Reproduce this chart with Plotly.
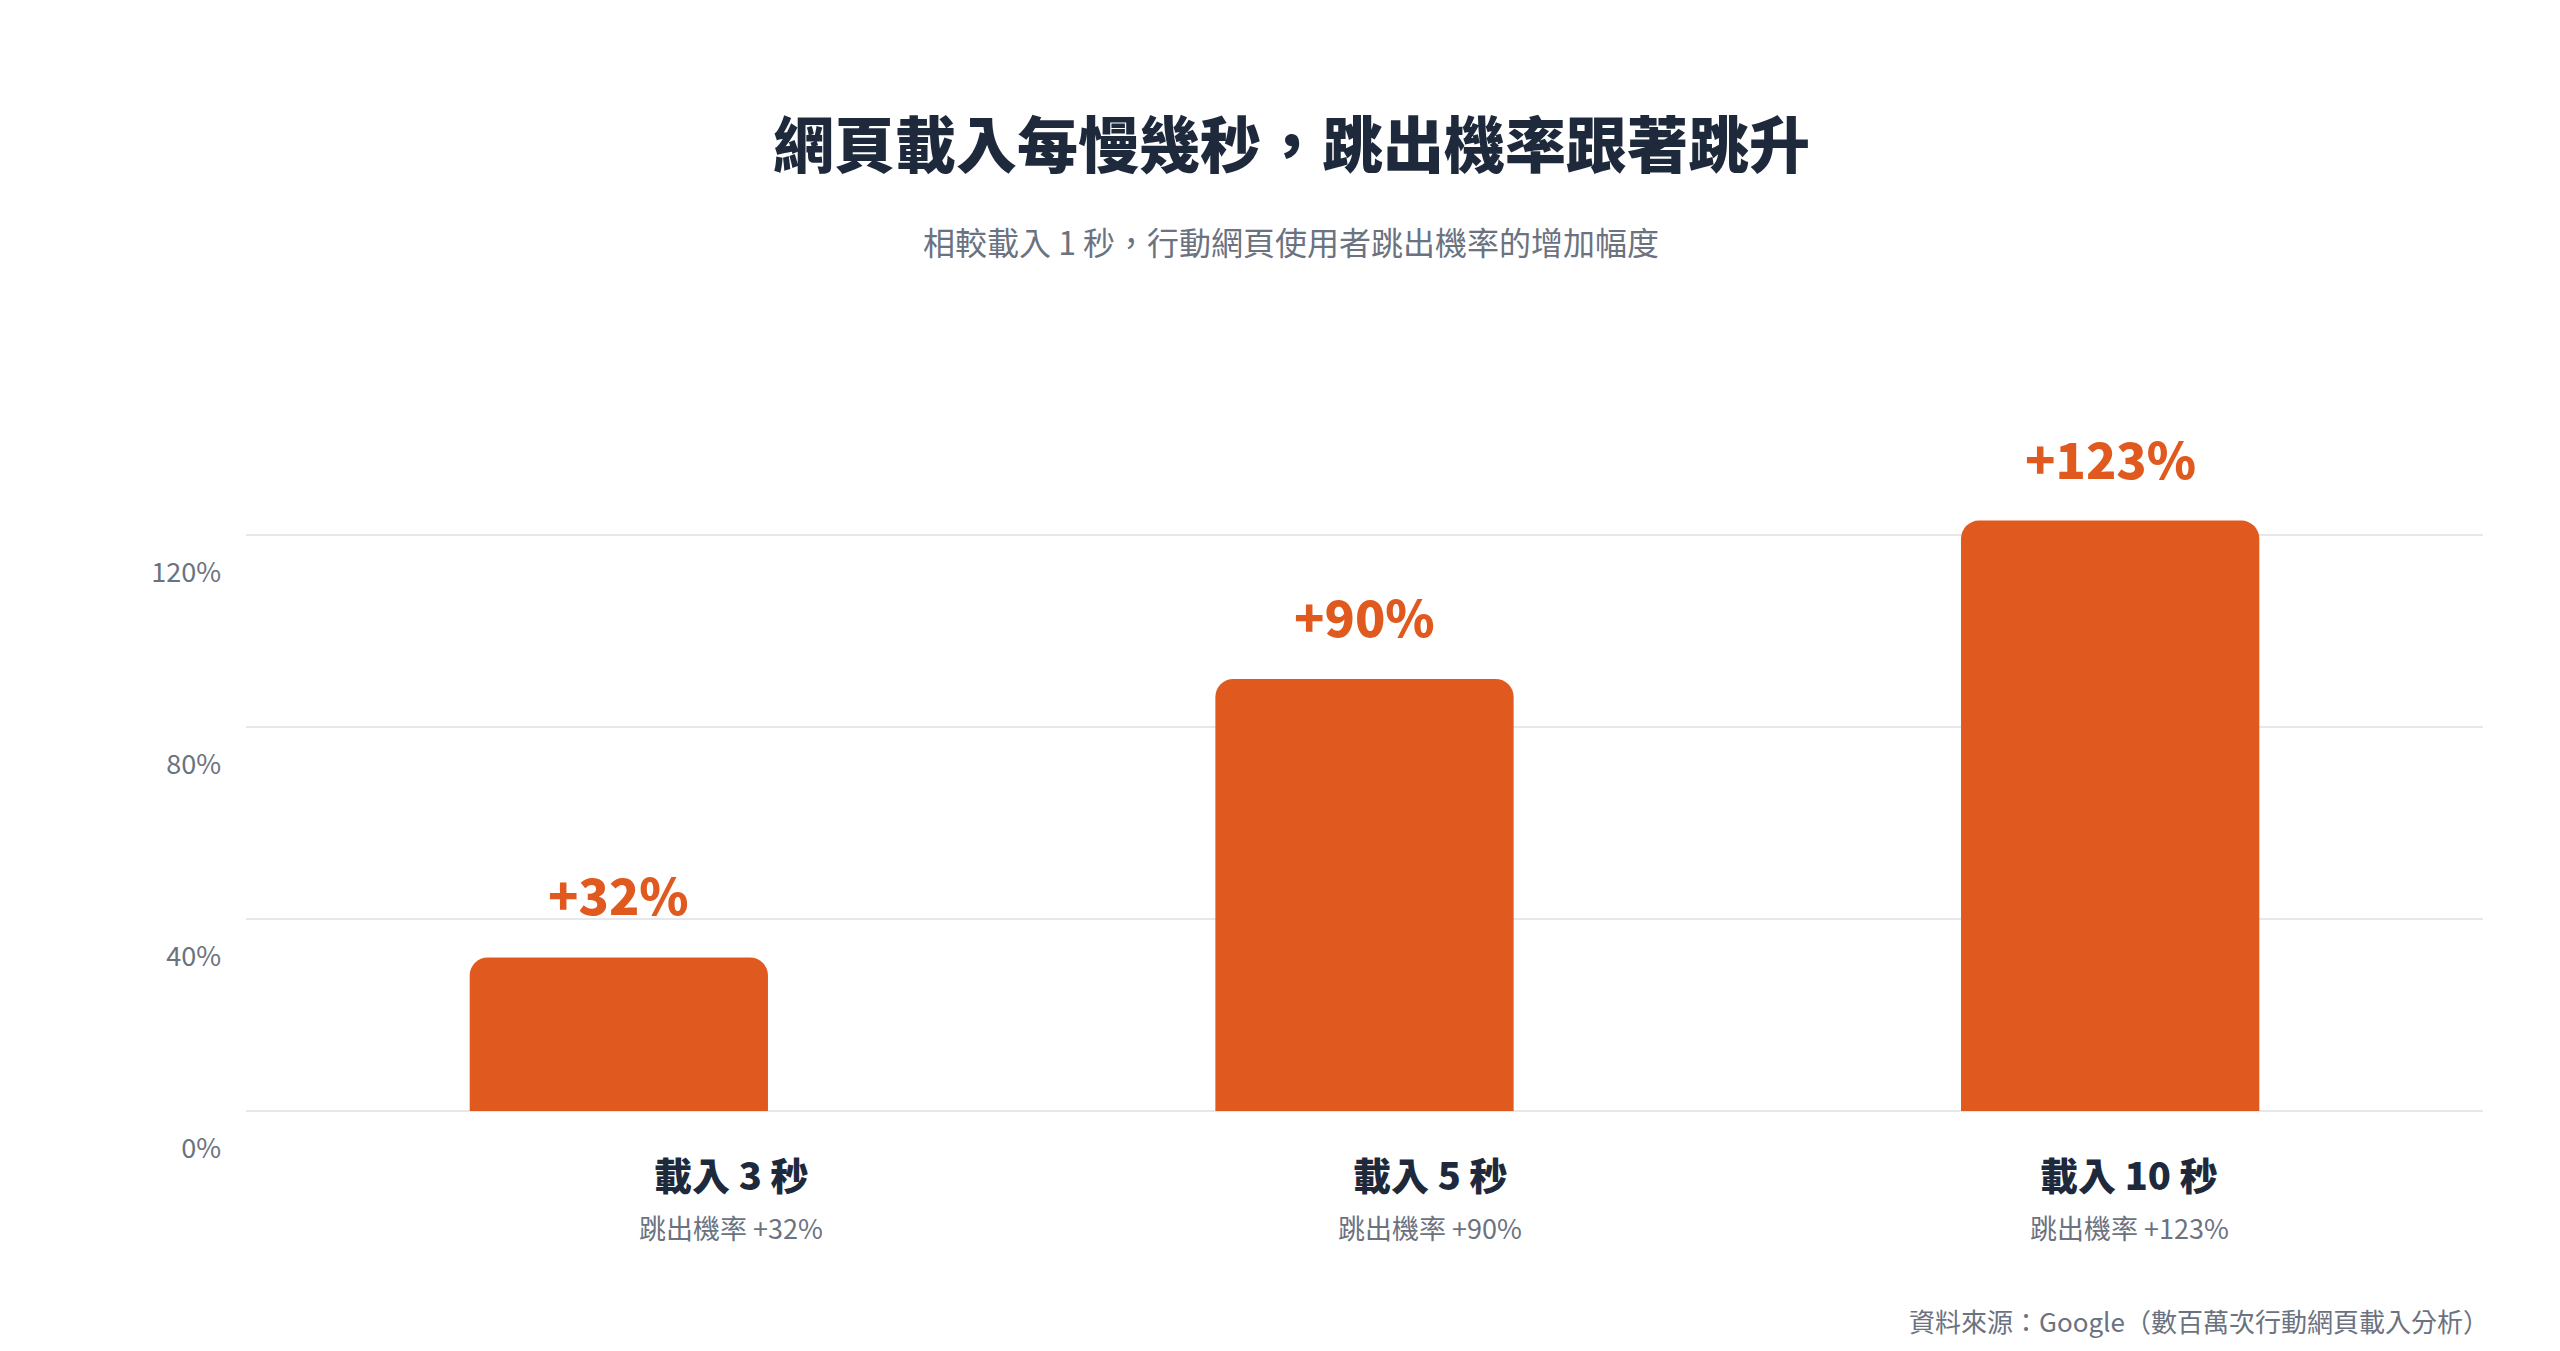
import plotly.graph_objects as go

categories = ["載入 3 秒", "載入 5 秒", "載入 10 秒"]
values = [32, 90, 123]
value_labels = ["+32%", "+90%", "+123%"]
sub_labels = ["跳出機率 +32%", "跳出機率 +90%", "跳出機率 +123%"]
y_tickvals = [0, 40, 80, 120]
y_ticktext = ["0%", "40%", "80%", "120%"]

title_text = "網頁載入每慢幾秒，跳出機率跟著跳升"
subtitle_text = "相較載入 1 秒，行動網頁使用者跳出機率的增加幅度"
source_text = "資料來源：Google（數百萬次行動網頁載入分析）"

W, H = 2560, 1351
L, R, T, B = 238, 85, 431, 248
PW, PH = W - L - R, H - T - B

def px_x(px):
    return (px - L) / PW

def px_y(py):
    return (H - B - py) / PH

FONT = "Noto Sans CJK TC, Noto Sans, sans-serif"
BAR = "#E05A1F"
DARK = "#1E293B"
GRAY = "#6B7280"

fig = go.Figure()
fig.add_trace(go.Bar(
    x=categories, y=values,
    marker=dict(color=BAR, cornerradius=18, line=dict(width=0)),
    width=0.4, hoverinfo="skip",
))

annotations = []
for c, v, t in zip(categories, values, value_labels):
    annotations.append(dict(
        x=c, y=v, xref="x", yref="y", text=t, showarrow=False,
        yanchor="bottom", yshift=26,
        font=dict(family=FONT, size=50, color=BAR, weight=900),
    ))

# category labels (offset axis positions as in the reference)
n = len(categories)
for i, (c, s) in enumerate(zip(categories, sub_labels)):
    xp = (i + 0.7) / (n + 0.2)
    annotations.append(dict(
        x=xp, y=px_y(1165), xref="paper", yref="paper", text=c,
        showarrow=False, xanchor="center", yanchor="middle", xshift=-4,
        font=dict(family=FONT, size=38, color=DARK, weight=900),
    ))
    annotations.append(dict(
        x=xp, y=px_y(1219), xref="paper", yref="paper", text=s,
        showarrow=False, xanchor="center", yanchor="middle", xshift=-4,
        font=dict(family=FONT, size=27, color=GRAY),
    ))

annotations.append(dict(
    x=px_x(1283), y=px_y(134), xref="paper", yref="paper", text=title_text,
    showarrow=False, xanchor="center", yanchor="middle",
    font=dict(family=FONT, size=61, color=DARK, weight=900),
))
annotations.append(dict(
    x=px_x(1283), y=px_y(233), xref="paper", yref="paper", text=subtitle_text,
    showarrow=False, xanchor="center", yanchor="middle",
    font=dict(family=FONT, size=32, color=GRAY),
))
annotations.append(dict(
    x=px_x(2483), y=px_y(1312), xref="paper", yref="paper", text=source_text,
    showarrow=False, xanchor="right", yanchor="middle",
    font=dict(family=FONT, size=26, color=GRAY),
))

fig.update_layout(
    width=W, height=H,
    margin=dict(l=L, r=R, t=T, b=B, autoexpand=False),
    paper_bgcolor="white", plot_bgcolor="white",
    showlegend=False,
    annotations=annotations,
    font=dict(family=FONT),
    bargap=0.6,
)
fig.update_xaxes(
    type="category", range=[-0.5, 2.5], showticklabels=False,
    showgrid=False, zeroline=False, showline=False, ticks="",
)
fig.update_yaxes(
    range=[0, 140], tickvals=y_tickvals, ticktext=y_ticktext,
    showgrid=True, gridcolor="#E5E7EB", gridwidth=2,
    zeroline=True, zerolinecolor="#E5E7EB", zerolinewidth=2,
    showline=False, ticks="",
    tickfont=dict(family=FONT, size=27, color=GRAY),
    ticklabelshift=38, ticklabelstandoff=24,
)

fig.write_html("out.html")
